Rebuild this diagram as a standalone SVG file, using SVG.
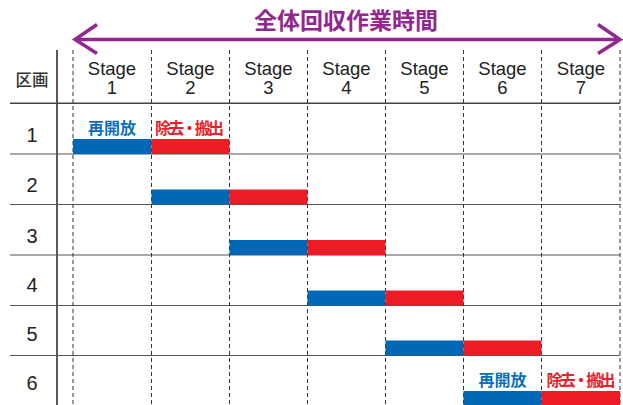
<svg xmlns="http://www.w3.org/2000/svg" width="623" height="405" viewBox="0 0 623 405">
<style>
text{font-family:"Liberation Sans","Noto Sans CJK JP",sans-serif;fill:#222}
.hd{font-size:18.5px;text-anchor:middle}
.rn{font-size:20px;text-anchor:middle}
.title{font-family:"Noto Sans CJK JP",sans-serif;font-size:23px;font-weight:bold;fill:#92278f;text-anchor:middle}
.lb{font-family:"Noto Sans CJK JP",sans-serif;font-size:16px;font-weight:bold;text-anchor:middle}
.lbb{fill:#0a6fb8}.lbr{fill:#e8202a}
.dash{stroke:#333;stroke-width:1;stroke-dasharray:4 3;fill:none}
.hl{stroke:#555;stroke-width:1.2}
.blue{fill:#0068b7}.red{fill:#ed1c24}
</style>
<g id="title">
<text class="title" x="346" y="29">全体回収作業時間</text>
</g>
<g id="connectors">
<line x1="76" y1="39.5" x2="617" y2="39.5" stroke="#92278f" stroke-width="3.5"/>
<polyline points="97,24.5 75,39.5 97,53.5" fill="none" stroke="#92278f" stroke-width="3.5"/>
<polyline points="598,24.5 620,39.5 598,53.5" fill="none" stroke="#92278f" stroke-width="3.5"/>
</g>
<g id="grid">
<line x1="57" y1="50" x2="57" y2="405" stroke="#222" stroke-width="1.5"/>
<line x1="10" y1="103.3" x2="620" y2="103.3" stroke="#444" stroke-width="1.6"/>
<line class="hl" x1="10" y1="154" x2="620" y2="154"/>
<line class="hl" x1="10" y1="204.5" x2="620" y2="204.5"/>
<line class="hl" x1="10" y1="255" x2="620" y2="255"/>
<line class="hl" x1="10" y1="305.5" x2="620" y2="305.5"/>
<line class="hl" x1="10" y1="355.5" x2="620" y2="355.5" stroke="#777"/>
<line class="dash" x1="73" y1="50" x2="73" y2="405"/>
<line class="dash" x1="151.5" y1="50" x2="151.5" y2="405"/>
<line class="dash" x1="229.5" y1="50" x2="229.5" y2="405"/>
<line class="dash" x1="307.5" y1="50" x2="307.5" y2="405"/>
<line class="dash" x1="385.5" y1="50" x2="385.5" y2="405"/>
<line class="dash" x1="463.5" y1="50" x2="463.5" y2="405"/>
<line class="dash" x1="541.5" y1="50" x2="541.5" y2="405"/>
<line class="dash" x1="620" y1="50" x2="620" y2="405"/>
</g>
<g id="header">
<text x="32" y="85.5" style="font-size:16.5px;text-anchor:middle;font-family:'Noto Sans CJK JP',sans-serif;font-weight:500;fill:#333">区画</text>
<text class="hd" x="112" y="75">Stage</text><text class="hd" x="112" y="94">1</text>
<text class="hd" x="190.5" y="75">Stage</text><text class="hd" x="190.5" y="94">2</text>
<text class="hd" x="268.5" y="75">Stage</text><text class="hd" x="268.5" y="94">3</text>
<text class="hd" x="346.5" y="75">Stage</text><text class="hd" x="346.5" y="94">4</text>
<text class="hd" x="424.5" y="75">Stage</text><text class="hd" x="424.5" y="94">5</text>
<text class="hd" x="502.5" y="75">Stage</text><text class="hd" x="502.5" y="94">6</text>
<text class="hd" x="581" y="75">Stage</text><text class="hd" x="581" y="94">7</text>
</g>
<g id="row1">
<text class="rn" x="32" y="142">1</text>
<rect class="blue" x="73" y="139" width="78.5" height="15"/>
<rect class="red" x="151.5" y="139" width="78" height="15"/>
<text class="lb lbb" x="112" y="133.5">再開放</text>
<text class="lb lbr" x="189.5" y="133.5" textLength="69" lengthAdjust="spacing">除去・搬出</text>
</g>
<g id="row2">
<text class="rn" x="32" y="192">2</text>
<rect class="blue" x="151.5" y="189.5" width="78" height="15"/>
<rect class="red" x="229.5" y="189.5" width="78" height="15"/>
</g>
<g id="row3">
<text class="rn" x="32" y="242.5">3</text>
<rect class="blue" x="229.5" y="240" width="78" height="15"/>
<rect class="red" x="307.5" y="240" width="78" height="15"/>
</g>
<g id="row4">
<text class="rn" x="32" y="292">4</text>
<rect class="blue" x="307.5" y="290.5" width="78" height="15"/>
<rect class="red" x="385.5" y="290.5" width="78" height="15"/>
</g>
<g id="row5">
<text class="rn" x="32" y="341">5</text>
<rect class="blue" x="385.5" y="340.5" width="78" height="15"/>
<rect class="red" x="463.5" y="340.5" width="78" height="15"/>
</g>
<g id="row6">
<text class="rn" x="32" y="390">6</text>
<rect class="blue" x="463.5" y="391" width="78" height="15"/>
<rect class="red" x="541.5" y="391" width="78.5" height="15"/>
<text class="lb lbb" x="502.5" y="385.5">再開放</text>
<text class="lb lbr" x="581" y="385.5" textLength="69" lengthAdjust="spacing">除去・搬出</text>
</g>
</svg>
